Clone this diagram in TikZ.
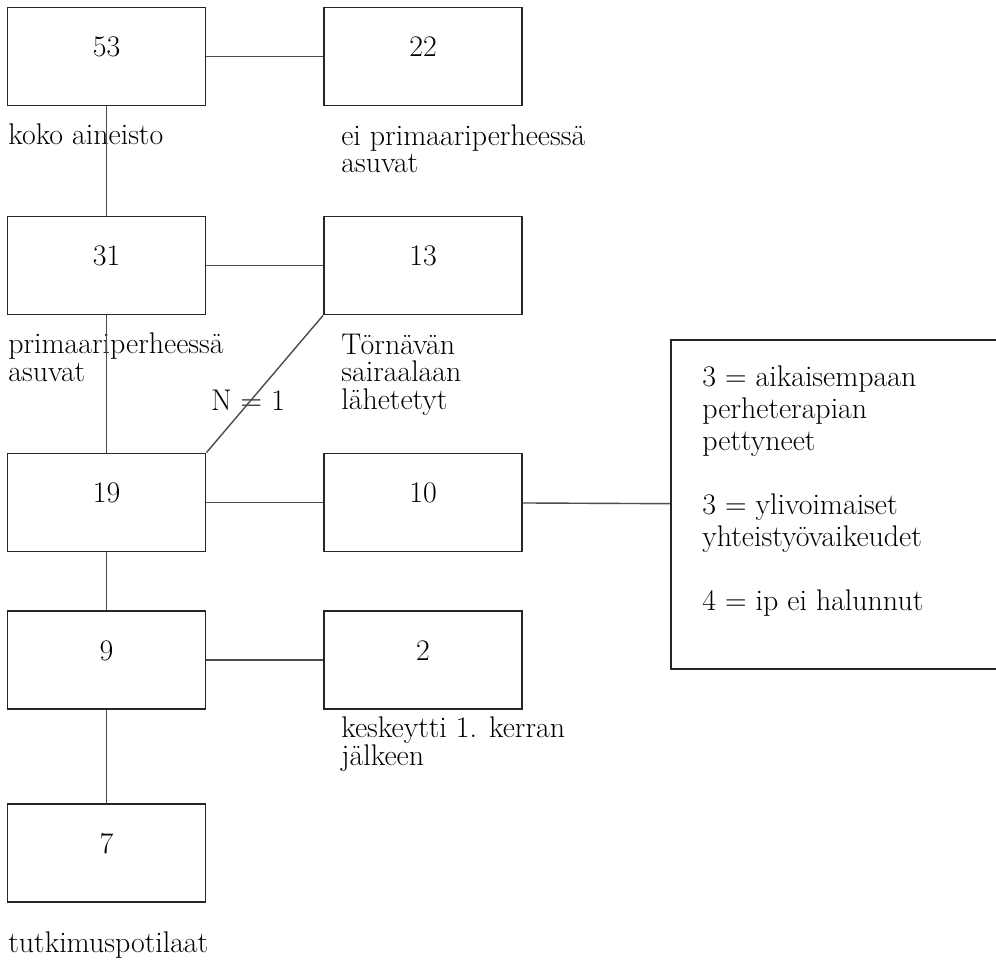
\documentclass[tikz,border=0pt]{standalone}

\tikzset{
  laatikko/.style={draw=black!85, line width=1.1pt, minimum width=39.6mm,
    minimum height=19.6mm, text height=3mm, text depth=3mm},
  selite/.style={anchor=base west, align=left, inner sep=0pt},
  yhteys/.style={draw=black!70, line width=0.8pt}
}

\begin{document}
\begin{tikzpicture}[x=0.2mm,y=-0.2mm,
    every node/.style={font=\fontsize{17}{15.4}\selectfont}]

  \useasboundingbox (0,0) rectangle (996,960);
  \clip (0,0) rectangle (996,960);

  % laatikot
  \begin{scope}[every node/.append style={laatikko}]
    \node (53) at (106.5,56.5)  {53};
    \node (22) at (423,56.5)    {22};
    \node (31) at (106.5,265.5) {31};
    \node (13) at (423,265.5)   {13};
    \node (19) at (106.5,502.5) {19};
    \node (10) at (423,502.5)   {10};
    \node (9)  at (106.5,660)   {9};
    \node (2)  at (423,660)     {2};
    \node (7)  at (106.5,853)   {7};
    \node[minimum width=67.8mm, minimum height=65.8mm, text height=, text depth=]
      (syyt) at (840.5,504.5) {};
  \end{scope}

  % tekstit (base = viimeinen rivi)
  \begin{scope}[every node/.append style={selite}]
    \node (t53) at (8,145)   {koko aineisto};
    \node (t22) at (341,173) {ei primaariperheessä\\asuvat};
    \node (t31) at (8,381)   {primaariperheessä\\asuvat};
    \node (t13) at (341,409) {Törnävän\\sairaalaan\\lähetetyt};
    \node (t2)  at (341,765) {keskeytti 1. kerran\\jälkeen};
    \node (t7)  at (8,952)   {tutkimuspotilaat};
    \node[font=\fontsize{17}{18.2}\selectfont] (tsyyt) at (702,610)
      {3 = aikaisempaan\\perheterapian\\pettyneet\\[18.2pt]
       3 = ylivoimaiset\\yhteistyövaikeudet\\[18.2pt]
       4 = ip ei halunnut};
    \node[anchor=base] (n1) at (248,410) {N = 1};
  \end{scope}

  % yhteydet
  \begin{scope}[every edge/.style={yhteys}]
    \path (53) edge (22);
    \path (53) edge (31);
    \path (31) edge (13);
    \path (31) edge (19);
    \path (13.south west) edge (19.north east);
    \path (19) edge (10);
    \path (10) edge (syyt);
    \path (19) edge (9);
    \path (9)  edge (2);
    \path (9)  edge (7);
  \end{scope}

\end{tikzpicture}
\end{document}
